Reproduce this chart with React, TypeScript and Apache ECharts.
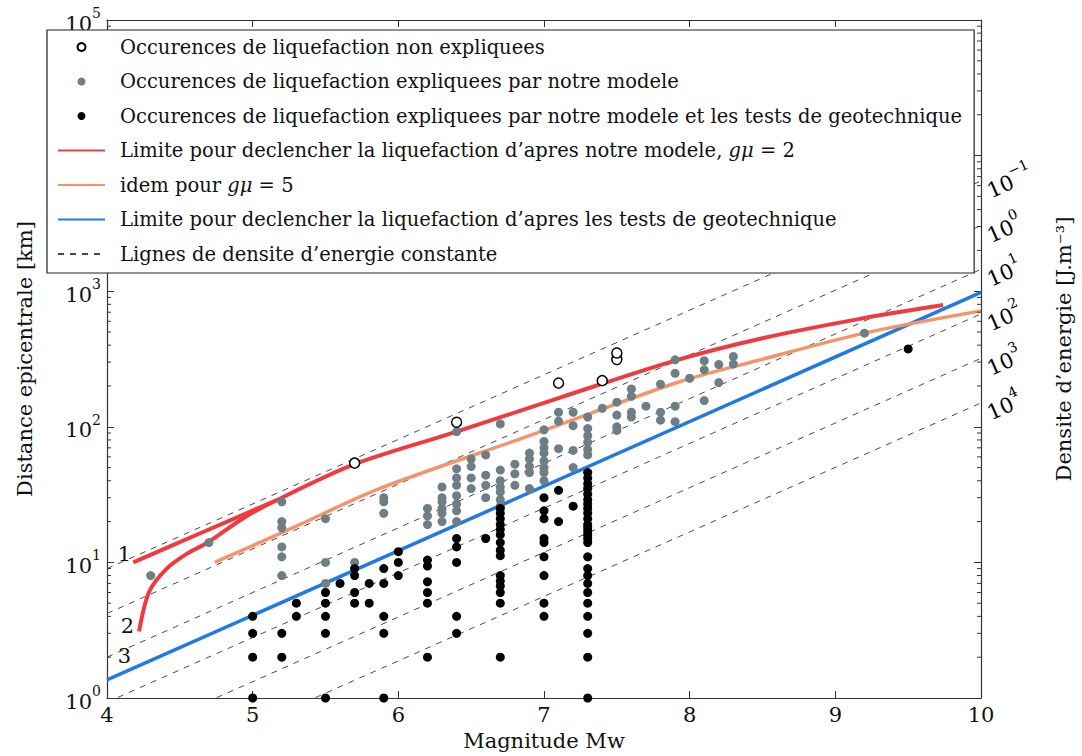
import React, { useEffect, useRef } from 'react';
import * as echarts from 'echarts';

const SERIF = '"DejaVu Serif", "Liberation Serif", serif';

// ---- data ----
const unexplainedM = [5.7, 6.4, 7.1, 7.4, 7.5, 7.5];
const unexplainedR = [54, 108, 210, 219, 313, 350];

const modelColumns: Array<[number, number[]]> = [
  [4.3, [8]],
  [4.7, [14]],
  [5.2, [28, 20, 18, 13, 11, 8]],
  [5.5, [21, 10, 7]],
  [5.7, [10]],
  [5.9, [30, 28, 23]],
  [6.2, [25, 22, 19]],
  [6.3, [36, 30, 28, 25, 23, 20]],
  [6.4, [92, 49, 42, 37, 31, 27, 24, 20]],
  [6.5, [58, 51, 42, 35]],
  [6.6, [62, 44, 37, 30]],
  [6.7, [105, 48, 40, 36, 33, 29, 26]],
  [6.8, [53, 45, 37]],
  [6.9, [64, 58, 51, 46, 35]],
  [7.0, [95, 78, 70, 64, 56, 50, 46, 40]],
  [7.1, [128, 110, 69]],
  [7.2, [128, 102, 67, 50]],
  [7.3, [118, 97, 86, 77, 68, 62]],
  [7.4, [137]],
  [7.5, [152, 122, 100, 94]],
  [7.6, [190, 168, 128, 118]],
  [7.7, [142]],
  [7.8, [206, 128, 112]],
  [7.9, [312, 248, 142, 109]],
  [8.0, [228]],
  [8.1, [307, 263, 156]],
  [8.2, [288, 212]],
  [8.3, [330, 290]],
  [9.2, [490]],
];

const geoColumns: Array<[number, number[]]> = [
  [5.0, [4, 3, 2, 1]],
  [5.2, [3, 2]],
  [5.3, [5, 4]],
  [5.5, [6, 5, 4, 3, 1]],
  [5.6, [7]],
  [5.7, [9, 8, 6, 5]],
  [5.8, [7, 5]],
  [5.9, [9, 7, 4, 3, 1]],
  [6.0, [12, 10, 8]],
  [6.2, [10.4, 9.4, 7.2, 6, 5, 2]],
  [6.4, [15, 13, 10, 4, 3]],
  [6.6, [15]],
  [6.7, [25, 23, 21, 19, 17.5, 16, 14, 12.3, 11.2, 8, 7.3, 6.7, 6, 5, 2]],
  [7.0, [30, 24, 21, 15, 14, 11, 8, 5, 4]],
  [7.1, [34, 20]],
  [7.2, [26]],
  [7.3, [46, 42, 38, 35, 32, 29, 27, 25, 23, 21, 19, 18, 17, 16, 15, 14, 11, 9, 8, 7, 6, 5, 4, 3, 2, 1]],
  [9.5, [375]],
];

const redUpperM = [4.18, 4.64, 5.16];
const redUpperR = [10, 16.4, 28.6];
const redLowerM = [4.22, 4.29, 4.41, 4.55, 4.7, 4.93, 5.16, 5.7, 6.4, 7.1, 7.9, 8.5, 9.15, 9.74];
const redLowerR = [3.1, 6.1, 9.0, 11.6, 14.2, 21, 28.6, 53, 92, 163, 308, 450, 620, 790];

const orangeM = [4.74, 5.3, 5.87, 6.9, 7.92, 8.46, 9.2, 10];
const orangeR = [10, 18.5, 35, 86, 213, 307, 491, 716];

const blueM = [4, 10];
const blueR = [1.36, 980];

const energyLabels = ['\u22121', '0', '1', '2', '3', '4'];
const energyStartR = [9.0, 4.2, 2.0, 0.93, 0.44, 0.21]; // at Mw = 4
const energyEndR = [6500, 3050, 1450, 680, 320, 150]; // at Mw = 10

const curveTags = ['1', '2', '3'];
const curveTagM = [4.12, 4.14, 4.12];
const curveTagR = [11.5, 3.4, 2.05];

const decades = [1, 10, 100, 1000, 10000];
const minorMultipliers = [2, 3, 4, 5, 6, 7, 8, 9];

const N_UNEXPL = 'Occurences de liquefaction non expliquees';
const N_MODEL = 'Occurences de liquefaction expliquees par notre modele';
const N_GEO = 'Occurences de liquefaction expliquees par notre modele et les tests de geotechnique';
const N_RED = 'Limite pour declencher la liquefaction d\u2019apres notre modele, g\u03bc = 2';
const N_ORANGE = 'idem pour g\u03bc = 5';
const N_BLUE = 'Limite pour declencher la liquefaction d\u2019apres les tests de geotechnique';
const N_DASH = 'Lignes de densite d\u2019energie constante';

const RED = '#f03a40';
const ORANGE = '#f5946a';
const BLUE = '#1f7ae6';
const GRAY = '#6e7e84';
const AX = '#333';

const pairs = (ms: number[], rs: number[]) => ms.map((m, i) => [m, rs[i]]);
const cols = (c: Array<[number, number[]]>) => c.flatMap(([m, rs]) => rs.map((r) => [m, r]));

const supRich = {
  b: { fontFamily: SERIF, fontSize: 21, color: '#111', lineHeight: 28, verticalAlign: 'bottom' },
  s: { fontFamily: SERIF, fontSize: 14, color: '#111', lineHeight: 14, verticalAlign: 'top' },
};

const noSymbol = { color: 'rgba(0,0,0,0)', borderColor: 'rgba(0,0,0,0)', borderWidth: 0, opacity: 0 };

export default function App() {
  const ref = useRef<HTMLDivElement>(null);
  useEffect(() => {
    const chart = echarts.init(ref.current!, null, { renderer: 'svg' });
    const series: any[] = [];
    energyStartR.forEach((r0, i) => {
      series.push({
        name: N_DASH, type: 'line', data: [[4, r0], [10, energyEndR[i]]],
        symbol: 'none', showSymbol: false, silent: true, z: 1, clip: true,
        lineStyle: { color: '#4a4a4a', width: 1, type: [6, 6] },
        itemStyle: { color: '#4a4a4a' },
      });
    });
    const lineBase = { type: 'line', symbol: 'none', showSymbol: false, smooth: 0.3, silent: true, z: 3, clip: true };
    series.push({ ...lineBase, name: N_BLUE, smooth: false, data: pairs(blueM, blueR), lineStyle: { color: BLUE, width: 3.5 }, itemStyle: { color: BLUE } });
    series.push({ ...lineBase, name: N_ORANGE, data: pairs(orangeM, orangeR), lineStyle: { color: ORANGE, width: 3.5 }, itemStyle: { color: ORANGE } });
    series.push({ ...lineBase, name: N_RED, data: pairs(redUpperM, redUpperR), lineStyle: { color: RED, width: 4 }, itemStyle: { color: RED } });
    series.push({ ...lineBase, name: N_RED, data: pairs(redLowerM, redLowerR), lineStyle: { color: RED, width: 4 }, itemStyle: { color: RED } });
    series.push({ type: 'scatter', name: N_MODEL, data: cols(modelColumns), symbolSize: 9, z: 5, silent: true, itemStyle: { color: GRAY, opacity: 1 } });
    series.push({ type: 'scatter', name: N_GEO, data: cols(geoColumns), symbolSize: 9, z: 5, silent: true, itemStyle: { color: '#000', opacity: 1 } });
    series.push({ type: 'scatter', name: N_UNEXPL, data: pairs(unexplainedM, unexplainedR), symbolSize: 10, z: 6, silent: true, itemStyle: { color: '#fff', borderColor: '#000', borderWidth: 1.5, opacity: 1 } });
    const minorData = decades.flatMap((d) => minorMultipliers.map((k) => [4, d * k]));
    series.push({
      type: 'custom', name: 'minor', silent: true, z: 7, clip: false, data: minorData,
      encode: { x: 0, y: 1 },
      renderItem: (_p: any, api: any) => {
        const v = api.value(1);
        const l = api.coord([4, v]);
        const r = api.coord([10, v]);
        return {
          type: 'group',
          children: [
            { type: 'line', shape: { x1: l[0], y1: l[1], x2: l[0] + 4, y2: l[1] }, style: { stroke: AX, lineWidth: 1 } },
            { type: 'line', shape: { x1: r[0] - 4, y1: r[1], x2: r[0], y2: r[1] }, style: { stroke: AX, lineWidth: 1 } },
          ],
        };
      },
    });

    const axisLine = { show: true, lineStyle: { color: AX, width: 1.2 } };
    chart.setOption({
      animation: false,
      backgroundColor: '#fff',
      grid: { left: 107, right: 97, top: 20, bottom: 56, containLabel: false },
      xAxis: [
        {
          type: 'value', min: 4, max: 10, interval: 1, position: 'bottom',
          axisLine, splitLine: { show: false },
          axisTick: { inside: true, length: 7, lineStyle: { color: AX } },
          axisLabel: { fontFamily: SERIF, fontSize: 21, color: '#111', margin: 6 },
          name: 'Magnitude Mw', nameLocation: 'middle', nameGap: 32,
          nameTextStyle: { fontFamily: SERIF, fontSize: 21, color: '#111' },
        },
        {
          type: 'value', min: 4, max: 10, interval: 1, position: 'top',
          axisLine, splitLine: { show: false },
          axisTick: { inside: true, length: 7, lineStyle: { color: AX } },
          axisLabel: { show: false },
        },
      ],
      yAxis: [
        {
          type: 'log', logBase: 10, min: 1, max: 100000, position: 'left',
          axisLine, splitLine: { show: false },
          axisTick: { inside: true, length: 7, lineStyle: { color: AX } },
          axisLabel: {
            margin: 6,
            formatter: (v: number) => `{b|10}{s|${Math.round(Math.log10(v))}}`,
            rich: supRich,
          },
          name: 'Distance epicentrale [km]', nameLocation: 'middle', nameGap: 72, nameRotate: 90,
          nameTextStyle: { fontFamily: SERIF, fontSize: 21, color: '#111' },
        },
        {
          type: 'log', logBase: 10, min: 1, max: 100000, position: 'right',
          axisLine, splitLine: { show: false },
          axisTick: { inside: true, length: 7, lineStyle: { color: AX } },
          axisLabel: { show: false },
          name: 'Densite d\u2019energie [J.m\u207b\u00b3]', nameLocation: 'middle', nameGap: 72, nameRotate: 90,
          nameTextStyle: { fontFamily: SERIF, fontSize: 21, color: '#111', padding: [0, 0, 0, 20] },
        },
      ],
      legend: {
        orient: 'vertical', left: 47, top: 30,
        data: [
          N_UNEXPL, N_MODEL, N_GEO,
          { name: N_RED, itemStyle: noSymbol },
          { name: N_ORANGE, itemStyle: noSymbol },
          { name: N_BLUE, itemStyle: noSymbol },
          { name: N_DASH, itemStyle: noSymbol },
        ],
        backgroundColor: '#fff', borderColor: '#222', borderWidth: 1.2, borderRadius: 0,
        padding: [5, 12, 7, 10], itemGap: 10.5, itemWidth: 47, itemHeight: 8,
        selectedMode: false, z: 20,
        formatter: (name: string) => name.replace('g\u03bc', '{i|g\u03bc}'),
        textStyle: {
          fontFamily: SERIF, fontSize: 19.5, color: '#111', lineHeight: 24, padding: [0, 0, 0, 10],
          rich: { i: { fontFamily: SERIF, fontSize: 19.5, fontStyle: 'italic', color: '#111', lineHeight: 24 } },
        },
      },
      series,
    });

    const conv = (m: number, r: number) => chart.convertToPixel({ xAxisIndex: 0, yAxisIndex: 0 }, [m, r]) as number[];
    const graphics: any[] = [];
    energyEndR.forEach((r, i) => {
      const p = conv(10, r);
      graphics.push({
        type: 'text', x: p[0] + 6, y: p[1] + 8, rotation: 0.42, z: 30,
        style: {
          text: `{b|10}{s|${energyLabels[i]}}`, align: 'left', verticalAlign: 'middle',
          rich: supRich,
        },
      });
    });
    curveTags.forEach((t, i) => {
      const p = conv(curveTagM[i], curveTagR[i]);
      graphics.push({
        type: 'text', x: p[0], y: p[1], z: 30,
        style: { text: t, fontFamily: SERIF, fontSize: 21, fill: '#111', align: 'center', verticalAlign: 'middle' },
      });
    });
    chart.setOption({ graphic: graphics });

    return () => chart.dispose();
  }, []);
  return <div ref={ref} style={{ position: 'fixed', left: 0, top: 0, width: 1082, height: 756, background: '#fff' }} />;
}
